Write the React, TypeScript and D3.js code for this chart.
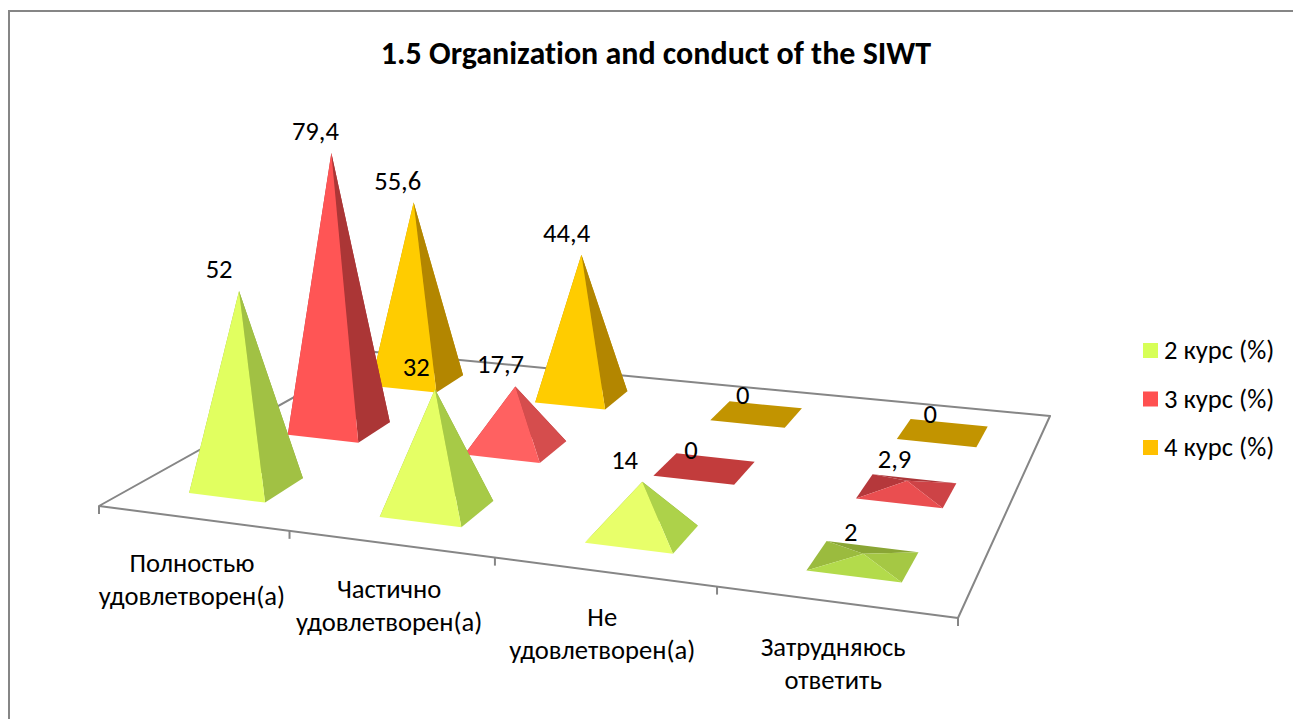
import React from "react";
import * as d3 from "d3";

const title = "1.5 Organization and conduct of the SIWT";
const categories = [
  ["Полностью", "удовлетворен(а)"],
  ["Частично", "удовлетворен(а)"],
  ["Не", "удовлетворен(а)"],
  ["Затрудняюсь", "ответить"],
];
const seriesNames = ["2 курс (%)", "3 курс (%)", "4 курс (%)"];
const course2 = [52, 32, 14, 2];
const course3 = [79.4, 17.7, 0, 2.9];
const course4 = [55.6, 44.4, 0, 0];
const seriesValues = [course2, course3, course4];
const legendColors = ["#D7FF57", "#FF5050", "#FFC000"];
// shade of each face by value: [~2, ~14, ~80]
const shadeDomain = [2, 14, 80];
const frontShades = [
  ["#B3DB4B", "#E8FF6A", "#DCFF58"],
  ["#E84C4F", "#FF6262", "#FF5555"],
  ["#FFCC00", "#FFCC00", "#FFCC00"],
];
const rightShades = [
  ["#A5C844", "#ADD24A", "#98B53F"],
  ["#CC4245", "#D84E4E", "#AB3636"],
  ["#B38600", "#B38600", "#B38600"],
];
const leftShades = [
  ["#9BBB3E", "#9BBB3E", "#9BBB3E"],
  ["#B5383B", "#B5383B", "#B5383B"],
  ["#C29400", "#C29400", "#C29400"],
];
const backShades = [
  ["#8AA635", "#8AA635", "#8AA635"],
  ["#AC3639", "#AC3639", "#AC3639"],
  ["#C29400", "#C29400", "#C29400"],
];
const flatColors = ["#9BBB3E", "#C23C3C", "#C29400"];

const W = 1293;
const H = 719;
const FONT = "Carlito, Lato, 'Open Sans', 'Noto Sans', sans-serif";
const AXIS = "#868686";
const TEXT_SIZE = 26.6;
const TITLE_SIZE = 32;

// floor plane of the 3D chart: homography from (u, v) in the unit square to the page
const corners = { x: [99, 958, 1050, 375], y: [506, 618, 416, 352] };
function makeProjection() {
  const [x0, x1, x2, x3] = corners.x;
  const [y0, y1, y2, y3] = corners.y;
  const sx = x0 - x1 + x2 - x3;
  const sy = y0 - y1 + y2 - y3;
  const dx1 = x1 - x2, dx2 = x3 - x2, dy1 = y1 - y2, dy2 = y3 - y2;
  const den = dx1 * dy2 - dx2 * dy1;
  const g = (sx * dy2 - dx2 * sy) / den;
  const h = (dx1 * sy - sx * dy1) / den;
  const a = x1 - x0 + g * x1, b = x3 - x0 + h * x3;
  const d = y1 - y0 + g * y1, e = y3 - y0 + h * y3;
  return (u: number, v: number): [number, number] => {
    const w = g * u + h * v + 1;
    return [(a * u + b * v + x0) / w, (d * u + e * v + y0) / w];
  };
}
const project = makeProjection();

const uBand = d3.scaleBand<number>().domain(d3.range(categories.length)).range([0.001, 1.003]);
const vBand = d3.scaleBand<number>().domain(d3.range(seriesNames.length)).range([0, 1]);
const pxPerUnit = d3.scaleLinear().domain([1 / 6, 5 / 6]).range([3.74, 3.2]);
const leanPerPx = d3.scaleLinear().domain([600, 240]).range([0, -0.04]);
const labelDx = d3.scaleLinear().domain([0, 1]).range([-16.5, -12]);
const categoryDx = d3.scaleLinear().domain([0, 1]).range([-1, -5]);
const HALF_U = 0.051;
const HALF_V = 0.064;
const line = d3.line<[number, number]>();
const poly = (pts: [number, number][]) => line(pts) + "Z";

function shade(table: string[][], s: number, value: number) {
  const scale = d3
    .scaleLinear<string>()
    .domain(shadeDomain)
    .range(table[s])
    .interpolate(d3.interpolateRgb)
    .clamp(true);
  return scale(value);
}

function Pyramid({ s, c }: { s: number; c: number }) {
  const value = seriesValues[s][c];
  const u = uBand(c)! + uBand.bandwidth() / 2;
  const v = vBand(s)! + vBand.bandwidth() / 2;
  const fl = project(u - HALF_U, v - HALF_V);
  const fr = project(u + HALF_U, v - HALF_V);
  const br = project(u + HALF_U, v + HALF_V);
  const bl = project(u - HALF_U, v + HALF_V);
  if (value === 0) return <path d={poly([fl, fr, br, bl])} fill={flatColors[s]} />;
  const [cx, cy] = project(u, v);
  const hPx = value * pxPerUnit(v);
  const apex: [number, number] = [cx + hPx * leanPerPx(cx), cy - hPx];
  return (
    <g>
      <path d={poly([bl, br, apex])} fill={shade(backShades, s, value)} />
      <path d={poly([fl, bl, apex])} fill={shade(leftShades, s, value)} />
      <path d={poly([fr, br, apex])} fill={shade(rightShades, s, value)} />
      <path d={poly([fl, fr, apex])} fill={shade(frontShades, s, value)} />
    </g>
  );
}

function ValueLabel({ s, c }: { s: number; c: number }) {
  const value = seriesValues[s][c];
  const u = uBand(c)! + uBand.bandwidth() / 2;
  const v = vBand(s)! + vBand.bandwidth() / 2;
  const [cx, cy] = project(u, v);
  const hPx = value * pxPerUnit(v);
  const ax = cx + hPx * leanPerPx(cx);
  const ay = cy - hPx;
  const label = String(value).replace(".", ",");
  return (
    <text
      x={ax + labelDx(u) - (label.length === 2 ? 4 : 0)}
      y={ay - (value === 0 ? 10 : 13)}
      textAnchor="middle"
      fontSize={TEXT_SIZE}
      fontFamily={FONT}
      fill="#000"
    >
      {label}
    </text>
  );
}

export default function App() {
  const floor = [project(0, 0), project(1, 0), project(1, 1), project(0, 1)] as [number, number][];
  const ticks = d3.range(categories.length + 1).map((k) => project(k / categories.length, 0));
  const backToFront = d3.range(seriesNames.length).reverse();
  return (
    <svg width={W} height={H} style={{ position: "absolute", left: 0, top: 0, background: "#fff" }}>
      <path d={`M9,${H}V11H${W}`} fill="none" stroke={AXIS} strokeWidth={2} />
      <text
        x={656}
        y={64}
        textAnchor="middle"
        fontSize={TITLE_SIZE}
        fontWeight={700}
        fontFamily={FONT}
        fill="#000"
        style={{ fontVariantLigatures: "none" }}
      >
        {title}
      </text>
      <path d={poly(floor)} fill="#fff" stroke={AXIS} strokeWidth={2} strokeLinejoin="round" />
      {ticks.map(([x, y], i) => (
        <line key={i} x1={x} x2={x} y1={y} y2={y + 8} stroke={AXIS} strokeWidth={2} />
      ))}
      {backToFront.map((s) =>
        categories.map((_, c) => <Pyramid key={`${s}-${c}`} s={s} c={c} />)
      )}
      {backToFront.map((s) =>
        categories.map((_, c) => <ValueLabel key={`${s}-${c}`} s={s} c={c} />)
      )}
      {categories.map((lines, c) => {
        const u = uBand(c)! + uBand.bandwidth() / 2;
        const [x, y] = project(u, 0);
        return (
          <g key={c} fontSize={TEXT_SIZE} fontFamily={FONT} fill="#000" textAnchor="middle">
            {lines.map((t, i) => (
              <text key={i} x={x + categoryDx(u)} y={y + 53.5 + i * 33}>{t}</text>
            ))}
          </g>
        );
      })}
      {seriesNames.map((name, s) => {
        const y = d3.scaleLinear().domain([0, 2]).range([343, 440])(s);
        return (
          <g key={s}>
            <rect x={1143} y={y} width={15} height={15} fill={legendColors[s]} />
            <text x={1164} y={y + 16} fontSize={TEXT_SIZE} fontFamily={FONT} fill="#000">{name}</text>
          </g>
        );
      })}
    </svg>
  );
}
